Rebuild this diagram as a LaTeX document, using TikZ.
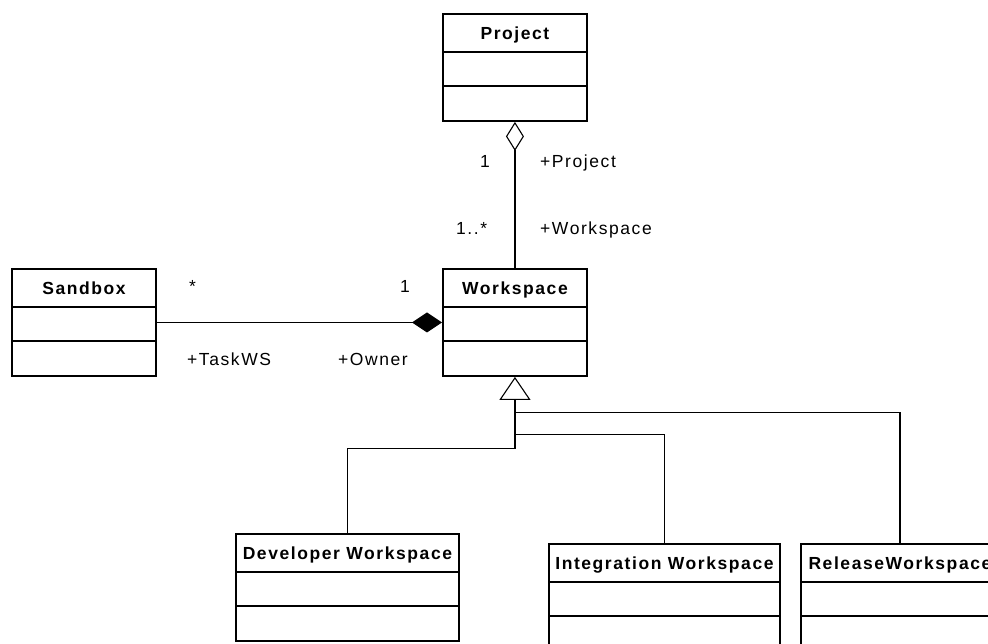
\documentclass[tikz,border=0pt]{standalone}
\usepackage{fontspec}
\usetikzlibrary{arrows.meta,calc}
\newfontfamily\umlfont[LetterSpace=9]{Liberation Sans}

\tikzset{
  classbox/.style={draw, line width=1.9pt, fill=white, minimum height=107pt,
    anchor=north west, inner sep=0pt},
  divider/.style={line width=1.9pt},
  classname/.style={font=\umlfont\bfseries\fontsize{17.5}{21}\selectfont,
    anchor=base, inner sep=0pt},
  role/.style={font=\umlfont\fontsize{17.5}{21}\selectfont,
    anchor=base west, inner sep=0pt},
  assoc/.style={line width=1.1pt},
  aggregation/.style={assoc, -{Diamond[open, length=29pt, width=18pt, line width=1.1pt]}},
  composition/.style={assoc, -{Diamond[length=30pt, width=20pt]}},
  inherit/.style={assoc, -{Triangle[open, length=23pt, width=31pt, line width=1.1pt]}},
}

% UML class: name, left, top, width, title
\newcommand{\umlclass}[5]{%
  \node[classbox, minimum width=#4] (#1) at (#2,#3) {};
  \node[classname] (#1-title) at ($(#1.north)+(0,26)$) {#5};
  \draw[divider] ($(#1.north west)+(0,39)$) -- ($(#1.north east)+(0,39)$);
  \draw[divider] ($(#1.north west)+(0,73)$) -- ($(#1.north east)+(0,73)$);
}

\begin{document}
\begin{tikzpicture}[x=1pt, y=-1pt]
\useasboundingbox (0,0) rectangle (988,643);
\clip (0,0) rectangle (988,643);

% classes
\umlclass{project}{442}{13}{144}{Project}
\umlclass{workspace}{442}{268}{144}{Workspace}
\umlclass{sandbox}{11}{268}{144}{Sandbox}
\umlclass{devws}{235}{533}{223}{Developer Workspace}
\umlclass{intws}{548}{543}{231}{Integration Workspace}
\umlclass{relws}{800}{543}{198}{ReleaseWorkspace}

% aggregation Project <>-- Workspace
\draw[aggregation] (workspace.north) -- (project.south);
\node[role] (agg-mult-p) at (480,167) {1};
\node[role] (agg-role-p) at (540,167) {+Project};
\node[role] (agg-mult-w) at (456,234) {1..*};
\node[role] (agg-role-w) at (540,234) {+Workspace};

% composition Workspace <#>-- Sandbox
\draw[composition] (sandbox.east) -- (workspace.west);
\node[role] (comp-mult-s) at (189,292) {*};
\node[role] (comp-mult-w) at (400,292) {1};
\node[role] (comp-role-s) at (187,365) {+TaskWS};
\node[role] (comp-role-w) at (338,365) {+Owner};

% generalization tree
\coordinate (jdev) at ($(workspace.south)+(0,72)$);
\coordinate (jint) at ($(workspace.south)+(0,58)$);
\coordinate (jrel) at ($(workspace.south)+(0,36)$);
\draw[inherit] (jdev) -- (workspace.south);
\draw[assoc] (devws.north) |- (jdev);
\draw[assoc] (intws.north) |- (jint);
\draw[assoc] (relws.north) |- (jrel);
\end{tikzpicture}
\end{document}
